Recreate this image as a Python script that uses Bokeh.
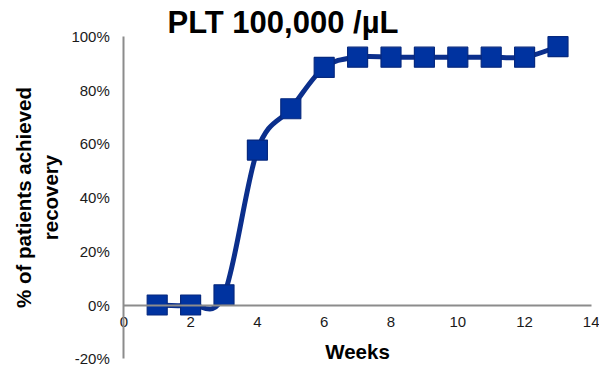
from bokeh.plotting import figure
from bokeh.models import NumeralTickFormatter, FixedTicker, Range1d, ColumnDataSource, Label
from bokeh.embed import file_html
from bokeh.resources import INLINE
import numpy as np

weeks = [1, 2, 3, 4, 5, 6, 7, 8, 9, 10, 11, 12, 13]
recovered = [0.0, 0.0, 0.038, 0.577, 0.731, 0.885, 0.923, 0.923, 0.923, 0.923, 0.923, 0.923, 0.962]
x_ticks = [0, 2, 4, 6, 8, 10, 12, 14]
y_ticks = [-0.2, 0.0, 0.2, 0.4, 0.6, 0.8, 1.0]
title_text = "PLT 100,000 /µL"
x_label = "Weeks"
y_label = "% of patients achieved\nrecovery"

LINE = "#0b2f8c"
FILL = "#0033a0"
FONT = "Liberation Sans"

# pixel calibration of the frame (the frame spans the whole canvas)
W, H = 599, 381
px_x0, px_per_week = 123.3, 33.4          # screen x of week 0, pixels per week
px_y0, px_per_unit = 304.5, 268.5         # screen y of 0 %, pixels per 100 %
xr = Range1d(-px_x0 / px_per_week, (W - px_x0) / px_per_week)
yr = Range1d(-(H - px_y0) / px_per_unit, px_y0 / px_per_unit)

p = figure(width=W, height=H, output_backend="svg", toolbar_location=None,
           x_range=xr, y_range=yr, title=None,
           min_border_left=0, min_border_right=0, min_border_top=0, min_border_bottom=0)
p.outline_line_color = None
p.grid.visible = False
p.background_fill_color = "white"
p.border_fill_color = "white"

# smoothed line (Catmull-Rom style Bezier segments, as in a spreadsheet "smoothed line")
xs = np.array(weeks, dtype=float)
ys = np.array(recovered, dtype=float)
n = len(xs)
xp = np.concatenate([[xs[0]], xs, [xs[-1]]])
yp = np.concatenate([[ys[0]], ys, [ys[-1]]])
seg = dict(x0=[], y0=[], x1=[], y1=[], cx0=[], cy0=[], cx1=[], cy1=[])
for i in range(n - 1):
    a, b = i + 1, i + 2
    seg["x0"].append(xp[a]); seg["y0"].append(yp[a])
    seg["x1"].append(xp[b]); seg["y1"].append(yp[b])
    seg["cx0"].append(xp[a] + (xp[b] - xp[a - 1]) / 6)
    seg["cy0"].append(yp[a] + (yp[b] - yp[a - 1]) / 6)
    seg["cx1"].append(xp[b] - (xp[b + 1] - xp[a]) / 6)
    seg["cy1"].append(yp[b] - (yp[b + 1] - yp[a]) / 6)
p.bezier(x0="x0", y0="y0", x1="x1", y1="y1", cx0="cx0", cy0="cy0", cx1="cx1", cy1="cy1",
         source=ColumnDataSource(seg), line_color=LINE, line_width=5, line_cap="round")

p.scatter(weeks, recovered, marker="square", size=20, fill_color=FILL,
          line_color="#06297f", line_width=1.2)

# axes crossing at the origin
xa = p.xaxis[0]
xa.fixed_location = 0
xa.bounds = (x_ticks[0], x_ticks[-1])
xa.ticker = FixedTicker(ticks=x_ticks)
xa.axis_label = x_label
ya = p.yaxis[0]
ya.fixed_location = 0
ya.bounds = (y_ticks[0], y_ticks[-1])
ya.ticker = FixedTicker(ticks=y_ticks)
ya.formatter = NumeralTickFormatter(format="0%")
ya.axis_label = y_label
for ax in (xa, ya):
    ax.axis_line_color = "#8c8c8c"
    ax.axis_line_width = 2
    ax.major_tick_line_color = None
    ax.minor_tick_line_color = None
    ax.major_tick_out = 0
    ax.major_tick_in = 0
    ax.major_label_text_font = FONT
    ax.major_label_text_font_size = "15px"
    ax.major_label_text_color = "#1a1a1a"
    ax.axis_label_text_font = FONT
    ax.axis_label_text_font_size = "20.5px"
    ax.axis_label_text_font_style = "bold"
    ax.axis_label_text_color = "black"
xa.major_label_standoff = 12
xa.axis_label_standoff = 9
ya.major_label_standoff = 14
ya.axis_label_standoff = 6

title = Label(x=(167 - px_x0) / px_per_week, y=(px_y0 - 22) / px_per_unit, text=title_text,
              text_font=FONT, text_font_size="31px", text_font_style="bold",
              text_color="black", text_align="left", text_baseline="alphabetic")
p.add_layout(title)

open("out.html", "w").write(file_html(p, INLINE))
